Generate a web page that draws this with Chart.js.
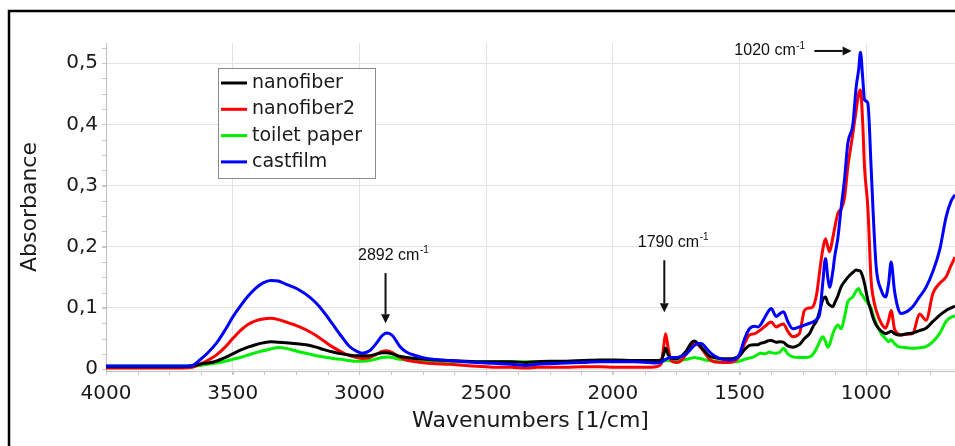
<!DOCTYPE html>
<html>
<head>
<meta charset="utf-8">
<script src="https://cdn.jsdelivr.net/npm/chart.js@4.4.1/dist/chart.umd.min.js"></script>
<style>
  html, body { margin: 0; padding: 0; background: #fff; }
  #wrap { width: 955px; height: 446px; }
</style>
</head>
<body>
<div id="wrap"><canvas id="spectra"></canvas></div>
<script>
// --- Data (wavenumber in 1/cm, absorbance) ---
const wavenumbers = [
  4000, 3900, 3800, 3700, 3660, 3630, 3600, 3565, 3530, 3500,
  3470, 3440, 3410, 3380, 3350, 3320, 3290, 3260, 3236, 3200,
  3171, 3140, 3105, 3070, 3039, 3010, 2990, 2960, 2930, 2910,
  2892, 2870, 2842, 2815, 2776, 2740, 2700, 2645, 2580, 2500,
  2440, 2400, 2342, 2300, 2250, 2184, 2120, 2050, 1990, 1920,
  1860, 1830, 1810, 1800, 1792, 1782, 1770, 1750, 1737, 1710,
  1690, 1678, 1665, 1651, 1635, 1618, 1600, 1567, 1540, 1520,
  1500, 1480, 1461, 1440, 1428, 1418, 1400, 1382, 1375, 1356,
  1340, 1327, 1310, 1290, 1264, 1244, 1224, 1211, 1195, 1184,
  1172, 1161, 1152, 1145, 1132, 1125, 1112, 1099, 1086, 1073,
  1053, 1040, 1030, 1023, 1014, 1007, 994, 981, 974, 961,
  941, 924, 912, 902, 889, 875, 863, 840, 817, 790,
  764, 737, 711, 685, 665, 650
];

const nanofiber = [
  .004, .004, .004, .004, .005, .008, .010, .013, .019, .025,
  .031, .036, .040, .043, .045, .044, .043, .042, .041, .039,
  .036, .032, .028, .025, .023, .022, .022, .022, .025, .027,
  .027, .025, .021, .019, .0175, .016, .015, .014, .013, .012,
  .012, .012, .011, .012, .013, .013, .014, .015, .015, .014,
  .014, .014, .015, .024, .034, .024, .018, .017, .019, .030,
  .043, .046, .042, .036, .028, .021, .019, .017, .017, .018,
  .022, .032, .039, .040, .040, .042, .044, .047, .047, .044,
  .045, .044, .038, .036, .040, .050, .058, .069, .080, .095,
  .113, .118, .108, .105, .102, .108, .120, .135, .143, .150,
  .158, .162, .161, .160, .151, .140, .113, .095, .085, .072,
  .062, .058, .060, .062, .058, .056, .056, .058, .059, .063,
  .067, .078, .088, .096, .100, .103
];

const nanofiber2 = [
  .002, .002, .002, .002, .003, .008, .014, .023, .036, .050,
  .063, .073, .079, .082, .083, .081, .077, .073, .069, .062,
  .055, .046, .036, .028, .022, .019, .0175, .019, .025, .029,
  .030, .027, .020, .015, .012, .010, .009, .008, .006, .004,
  .003, .003, .002, .003, .003, .003, .004, .004, .003, .003,
  .003, .004, .008, .035, .058, .035, .014, .011, .012, .025,
  .040, .045, .040, .034, .025, .016, .012, .011, .011, .013,
  .022, .042, .056, .058, .061, .064, .070, .076, .077, .069,
  .072, .074, .062, .053, .058, .096, .100, .102, .125, .160,
  .195, .213, .200, .192, .215, .230, .255, .262, .280, .330,
  .385, .423, .450, .456, .401, .330, .265, .145, .120, .096,
  .075, .067, .080, .096, .066, .058, .056, .057, .058, .090,
  .080, .124, .140, .151, .170, .183
];

const toiletPaper = [
  .005, .005, .005, .005, .005, .006, .008, .010, .013, .016,
  .019, .023, .027, .030, .033, .0355, .034, .031, .028, .025,
  .022, .020, .0175, .016, .014, .013, .013, .014, .017, .019,
  .020, .019, .016, .015, .014, .013, .013, .012, .012, .012,
  .012, .012, .012, .012, .012, .012, .013, .013, .013, .013,
  .013, .013, .013, .013, .014, .014, .013, .013, .014, .016,
  .018, .019, .018, .017, .015, .014, .013, .012, .012, .012,
  .013, .016, .018, .021, .024, .026, .025, .028, .027, .026,
  .028, .034, .025, .020, .019, .019, .020, .024, .035, .045,
  .053, .045, .036, .040, .058, .065, .072, .066, .085, .110,
  .118, .128, .132, .125, .120, .115, .108, .100, .090, .075,
  .058, .050, .045, .048, .042, .037, .036, .035, .034, .035,
  .037, .045, .058, .078, .085, .087
];

const castfilm = [
  .005, .005, .005, .005, .006, .015, .026, .042, .064, .085,
  .103, .119, .132, .141, .145, .144, .139, .134, .129, .119,
  .108, .093, .073, .053, .037, .029, .026, .030, .044, .055,
  .059, .055, .038, .028, .022, .018, .016, .014, .012, .010,
  .009, .008, .006, .008, .009, .010, .011, .012, .012, .012,
  .011, .010, .011, .014, .016, .018, .019, .019, .020, .025,
  .034, .039, .042, .042, .036, .028, .022, .016, .015, .016,
  .025, .050, .066, .070, .069, .072, .085, .097, .099, .086,
  .091, .094, .078, .066, .069, .072, .075, .077, .082, .090,
  .140, .181, .150, .134, .160, .183, .215, .265, .310, .369,
  .400, .461, .490, .518, .475, .440, .435, .330, .265, .167,
  .129, .118, .140, .175, .129, .100, .091, .094, .102, .118,
  .134, .160, .194, .249, .275, .285
];

const seriesNames = ['nanofiber', 'nanofiber2', 'toilet paper', 'castfilm'];
const seriesColors = ['#000000', '#ff0000', '#00ee00', '#0000ff'];
const xTicks = [4000, 3500, 3000, 2500, 2000, 1500, 1000];
const yTicks = [0, 0.1, 0.2, 0.3, 0.4, 0.5];

// peak labels: text, label anchor, arrow start/end (data coords)
const peakNotes = [
  { text: '2892 cm', sup: '-1', at: [2867, 0.186], from: [2897, 0.157], to: [2897, 0.075] },
  { text: '1790 cm', sup: '-1', at: [1763, 0.2075], from: [1797, 0.178], to: [1797, 0.093] },
  { text: '1020 cm', sup: '-1', at: [1382, 0.520], from: [1205, 0.520], to: [1058, 0.520] }
];

const seriesValues = [nanofiber, nanofiber2, toiletPaper, castfilm];
const TICK_FONT = { family: 'DejaVu Sans', size: 20 };
const TITLE_FONT = { family: 'DejaVu Sans', size: 22 };

// --- Helpers ---
function arrow(ctx, x1, y1, x2, y2) {
  const ang = Math.atan2(y2 - y1, x2 - x1);
  const head = 9, half = 4.5;
  const bx = x2 - head * Math.cos(ang), by = y2 - head * Math.sin(ang);
  ctx.beginPath();
  ctx.moveTo(x1, y1);
  ctx.lineTo(bx, by);
  ctx.stroke();
  ctx.beginPath();
  ctx.moveTo(x2, y2);
  ctx.lineTo(bx + half * Math.sin(ang), by - half * Math.cos(ang));
  ctx.lineTo(bx - half * Math.sin(ang), by + half * Math.cos(ang));
  ctx.closePath();
  ctx.fill();
}

// --- Frame, minor ticks, legend and peak notes ---
const decorations = {
  id: 'decorations',
  beforeDraw(chart) {
    const ctx = chart.ctx;
    ctx.save();
    ctx.fillStyle = '#fff';
    ctx.fillRect(0, 0, chart.width, chart.height);
    ctx.strokeStyle = '#000';
    ctx.lineWidth = 2.5;
    ctx.strokeRect(9, 11, chart.width + 20, chart.height + 20);
    ctx.restore();
  },
  afterDraw(chart) {
    const ctx = chart.ctx;
    const xs = chart.scales.x, ys = chart.scales.y;
    const area = chart.chartArea;
    ctx.save();

    // minor ticks
    ctx.strokeStyle = '#c8c8c8';
    ctx.lineWidth = 1;
    ctx.beginPath();
    for (let v = 0.025; v < 0.53; v += 0.025) {
      const py = Math.round(ys.getPixelForValue(v)) + 0.5;
      ctx.moveTo(area.left - 4, py);
      ctx.lineTo(area.left, py);
    }
    for (let w = 4000; w > 650; w -= 125) {
      const px = Math.round(xs.getPixelForValue(w)) + 0.5;
      ctx.moveTo(px, area.bottom);
      ctx.lineTo(px, area.bottom + 4);
    }
    ctx.stroke();

    // legend box
    const lx = 218, ly = 68, lw = 157, lh = 110, row = 26.3;
    ctx.fillStyle = '#fff';
    ctx.fillRect(lx, ly, lw, lh);
    ctx.strokeStyle = '#8a8a8a';
    ctx.strokeRect(lx + 0.5, ly + 0.5, lw, lh);
    ctx.font = '19px "DejaVu Sans"';
    ctx.textBaseline = 'middle';
    ctx.textAlign = 'left';
    seriesNames.forEach((name, i) => {
      const cy = ly + 15 + i * row;
      ctx.strokeStyle = seriesColors[i];
      ctx.lineWidth = 3;
      ctx.beginPath();
      ctx.moveTo(lx + 3, cy);
      ctx.lineTo(lx + 29, cy);
      ctx.stroke();
      ctx.fillStyle = '#1a1a1a';
      ctx.fillText(name, lx + 34, cy);
    });

    // peak notes
    ctx.fillStyle = '#111';
    ctx.strokeStyle = '#111';
    ctx.lineWidth = 2;
    peakNotes.forEach(n => {
      const cx = xs.getPixelForValue(n.at[0]);
      const cy = ys.getPixelForValue(n.at[1]);
      ctx.font = '16px "Liberation Sans"';
      const w1 = ctx.measureText(n.text).width;
      ctx.font = '10px "Liberation Sans"';
      const w2 = ctx.measureText(n.sup).width;
      const left = cx - (w1 + w2) / 2;
      ctx.font = '16px "Liberation Sans"';
      ctx.textAlign = 'left';
      ctx.fillText(n.text, left, cy);
      ctx.font = '10px "Liberation Sans"';
      ctx.fillText(n.sup, left + w1 + 0.5, cy - 5);
      arrow(ctx,
        xs.getPixelForValue(n.from[0]), ys.getPixelForValue(n.from[1]),
        xs.getPixelForValue(n.to[0]), ys.getPixelForValue(n.to[1]));
    });
    ctx.restore();
  }
};

// --- Chart ---
const datasets = seriesNames.map((name, i) => ({
  label: name,
  data: wavenumbers.map((w, k) => ({ x: w, y: seriesValues[i][k] })),
  borderColor: seriesColors[i],
  borderWidth: 3,
  pointRadius: 0,
  fill: false,
  cubicInterpolationMode: 'monotone',
  order: name === 'castfilm' ? 0 : i + 1
}));

new Chart(document.getElementById('spectra'), {
  type: 'line',
  data: { datasets },
  plugins: [decorations],
  options: {
    responsive: true,
    maintainAspectRatio: false,
    animation: false,
    layout: { padding: { top: 43, right: 0, bottom: 0, left: 0 } },
    plugins: {
      legend: { display: false },
      tooltip: { enabled: false }
    },
    scales: {
      x: {
        type: 'linear',
        reverse: true,
        min: 650,
        max: 4000,
        afterBuildTicks: s => { s.ticks = xTicks.map(v => ({ value: v })); },
        afterFit: s => { s.height = 75; },
        grid: { color: '#e2e2e2', tickLength: 4, tickColor: '#c8c8c8' },
        border: { color: '#c0c0c0' },
        ticks: {
          font: TICK_FONT, color: '#1a1a1a', padding: 7, maxRotation: 0,
          callback: v => String(v)
        },
        title: {
          display: true, text: 'Wavenumbers [1/cm]',
          font: TITLE_FONT, color: '#1a1a1a', padding: { top: 0, bottom: 12 }
        }
      },
      y: {
        type: 'linear',
        min: -0.003,
        max: 0.533,
        afterBuildTicks: s => { s.ticks = yTicks.map(v => ({ value: v })); },
        afterFit: s => { s.width = 106; },
        grid: { color: '#e2e2e2', tickLength: 4, tickColor: '#c8c8c8' },
        border: { color: '#c0c0c0' },
        ticks: {
          font: TICK_FONT, color: '#1a1a1a', padding: 4,
          callback: v => v === 0 ? '0' : v.toFixed(1).replace('.', ',')
        },
        title: {
          display: true, text: 'Absorbance',
          font: TITLE_FONT, color: '#1a1a1a', padding: { top: 17, bottom: 0 }
        }
      }
    }
  }
});
</script>
</body>
</html>
